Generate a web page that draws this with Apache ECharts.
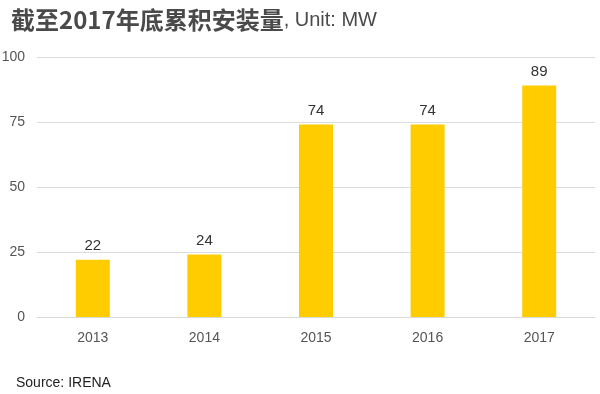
<!DOCTYPE html>
<html><head><meta charset="utf-8">
<script src="https://cdn.jsdelivr.net/npm/echarts@6/dist/echarts.min.js"></script>
<style>html,body{margin:0;padding:0;background:#fff}#c{width:600px;height:394px}</style>
</head><body><div id="c"></div>
<script>
const categories = ['2013','2014','2015','2016','2017'];
const values = [22, 24, 74, 74, 89];
const yTicks = [0, 25, 50, 75, 100];

const chart = echarts.init(document.getElementById('c'), null, {renderer:'canvas'});
chart.setOption({
  animation:false,
  backgroundColor:'#fff',
  textStyle:{fontFamily:'Liberation Sans, Arial, sans-serif'},
  title:[{
    left:6, top:3,
    text:'{b|截至2017年底累积安装量}{r|, Unit: MW}',
    textStyle:{fontWeight:'normal',rich:{
      b:{fontSize:24,fontWeight:'bold',color:'#4a4a4a',fontFamily:'Noto Sans CJK SC'},
      r:{fontSize:20,fontWeight:'normal',color:'#4a4a4a',fontFamily:'Liberation Sans'}
    }}
  },{
    left:11, top:371, text:'Source: IRENA',
    textStyle:{fontSize:14,fontWeight:'normal',color:'#222',fontFamily:'Liberation Sans'}
  }],
  grid:{left:37,right:5,top:57,bottom:77,outerBoundsMode:'none',containLabel:false},
  xAxis:{type:'category',data:categories,
    axisLine:{lineStyle:{color:'#d9d9d9'}},axisTick:{show:false},
    axisLabel:{color:'#555',fontSize:14,margin:14}},
  yAxis:{type:'value',min:yTicks[0],max:yTicks[yTicks.length-1],interval:25,
    axisLine:{show:false},axisTick:{show:false},
    splitLine:{lineStyle:{color:'#dcdcdc'}},
    axisLabel:{color:'#555',fontSize:14,margin:12}},
  series:[{type:'bar',data:values,barWidth:34,
    itemStyle:{color:'#FFCC00'},
    label:{show:true,position:'top',color:'#333',fontSize:15,distance:6}}]
});
</script></body></html>
